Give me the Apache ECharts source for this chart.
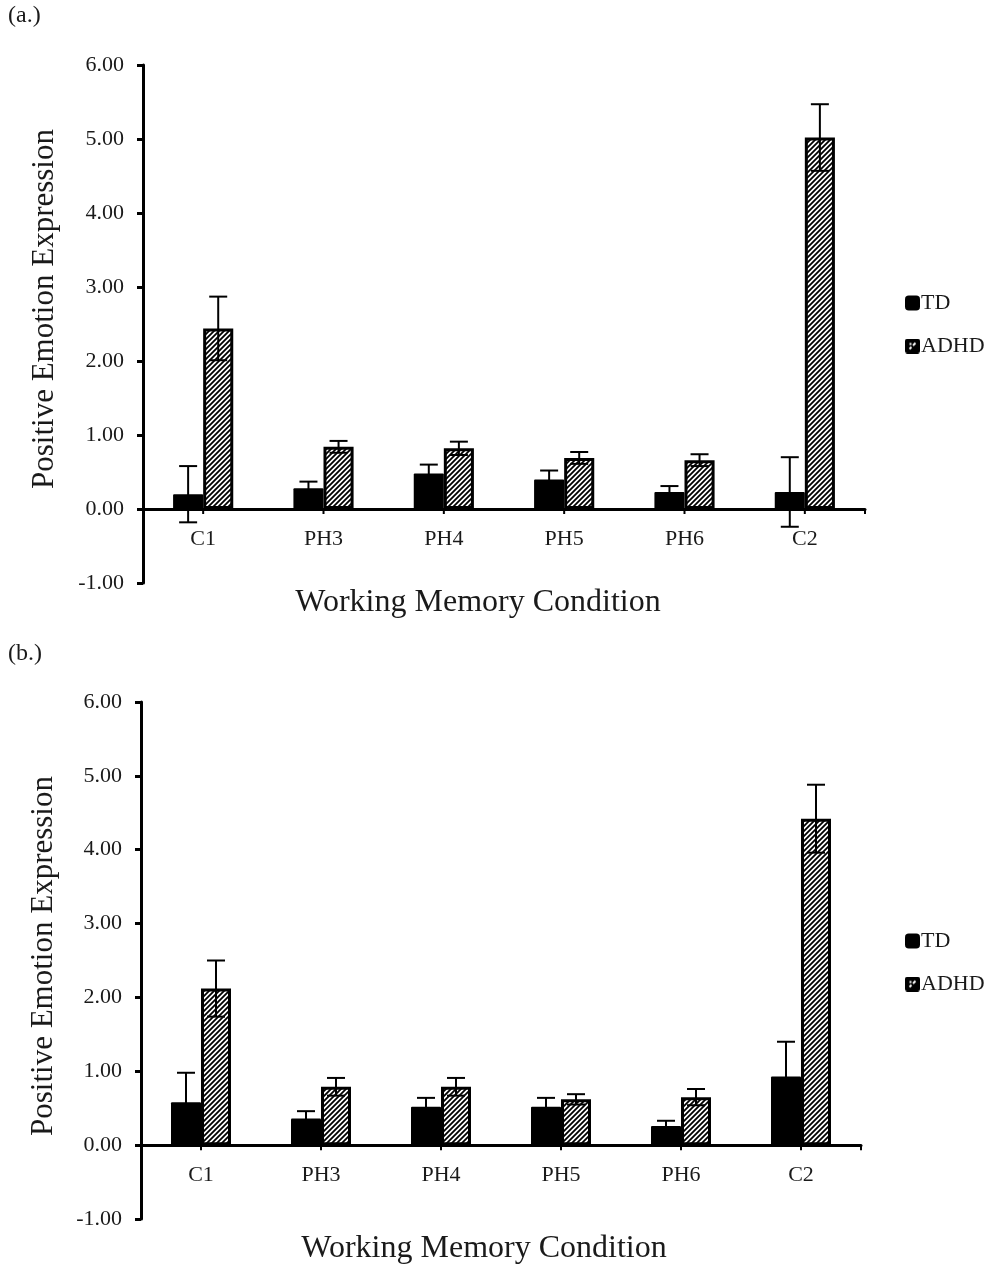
<!DOCTYPE html>
<html>
<head>
<meta charset="utf-8">
<script src="https://cdn.jsdelivr.net/npm/echarts@6/dist/echarts.min.js"></script>
<style>
html,body{margin:0;padding:0;background:#fff;}
#chart{width:994px;height:1266px;}
</style>
</head>
<body>
<div id="chart"></div>
<script>
// ---- data ----
const categories = ['C1', 'PH3', 'PH4', 'PH5', 'PH6', 'C2'];
const yTickMin = -1, yTickMax = 6, yTickStep = 1;
// panel (a.)
const tdA      = [0.20, 0.28, 0.48, 0.40, 0.23, 0.23];
const tdAErr   = [0.38, 0.09, 0.12, 0.12, 0.08, 0.47];
const adhdA    = [2.44, 0.84, 0.82, 0.69, 0.66, 5.02];
const adhdAErr = [0.43, 0.08, 0.09, 0.08, 0.08, 0.45];
// panel (b.)
const tdB      = [0.58, 0.36, 0.52, 0.52, 0.26, 0.93];
const tdBErr   = [0.40, 0.10, 0.12, 0.12, 0.07, 0.47];
const adhdB    = [2.12, 0.79, 0.79, 0.62, 0.65, 4.42];
const adhdBErr = [0.38, 0.12, 0.12, 0.07, 0.11, 0.46];
const seriesNames = ['TD', 'ADHD'];
const yTitle = 'Positive Emotion Expression';
const xTitle = 'Working Memory Condition';
const panelLabels = ['(a.)', '(b.)'];

const FONT = 'Liberation Serif';
const TEXT = '#1a1a1a';

// ---- hatch pattern ----
function makeHatch() {
  const s = 5;
  const c = document.createElement('canvas');
  c.width = s; c.height = s;
  const g = c.getContext('2d');
  g.fillStyle = '#fff';
  g.fillRect(0, 0, s, s);
  g.strokeStyle = '#000';
  g.lineWidth = 1.8;
  g.beginPath();
  g.moveTo(-s, s); g.lineTo(s, -s);
  g.moveTo(0, s); g.lineTo(s, 0);
  g.moveTo(0, 2 * s); g.lineTo(2 * s, 0);
  g.stroke();
  return c;
}
const hatch = makeHatch();

// legend icon for ADHD: dark square with a light diagonal mark
function makeAdhdIcon() {
  const s = 30;
  const c = document.createElement('canvas');
  c.width = s; c.height = s;
  const g = c.getContext('2d');
  g.fillStyle = '#000';
  g.beginPath();
  if (g.roundRect) { g.roundRect(0, 0, s, s, 5); } else { g.rect(0, 0, s, s); }
  g.fill();
  g.strokeStyle = '#fff';
  g.lineWidth = 4;
  g.beginPath();
  g.moveTo(9, 21); g.lineTo(13, 17);
  g.moveTo(16, 14); g.lineTo(21, 9);
  g.stroke();
  g.fillStyle = '#fff';
  g.fillRect(9, 9, 4, 4);
  return c.toDataURL();
}
const adhdIcon = 'image://' + makeAdhdIcon();

function errRender(sign) {
  return function (params, api) {
    const i = api.value(0), v = api.value(1), e = api.value(2);
    const band = api.size([1, 0])[0];
    const x = api.coord([i, v])[0] + sign * band * 0.125;
    const hi = api.coord([i, v + e])[1];
    const lo = api.coord([i, v - e])[1];
    const cap = 9;
    const st = { stroke: '#000', lineWidth: 2 };
    return {
      type: 'group',
      children: [
        { type: 'line', shape: { x1: x, y1: hi, x2: x, y2: lo }, style: st },
        { type: 'line', shape: { x1: x - cap, y1: hi, x2: x + cap, y2: hi }, style: st },
        { type: 'line', shape: { x1: x - cap, y1: lo, x2: x + cap, y2: lo }, style: st }
      ]
    };
  };
}

// category labels and ticks drawn at the zero line
function catLabelRender(params, api) {
  const i = api.value(0);
  const p = api.coord([i, 0]);
  const band = api.size([1, 0])[0];
  const st = { stroke: '#000', lineWidth: 2 };
  const children = [
    { type: 'line', shape: { x1: p[0], y1: p[1], x2: p[0], y2: p[1] + 5 }, style: st },
    { type: 'text', x: p[0], y: p[1] + 19,
      style: { text: categories[i], fontFamily: FONT, fontSize: 22, fill: TEXT,
        align: 'center', verticalAlign: 'top' } }
  ];
  if (i === categories.length - 1) {
    children.push({ type: 'line',
      shape: { x1: p[0] + band / 2, y1: p[1], x2: p[0] + band / 2, y2: p[1] + 5 }, style: st });
  }
  return { type: 'group', children: children };
}

function errData(vals, errs) {
  return vals.map((v, i) => [i, v, errs[i]]);
}

const grids = [
  { left: 143, right: 129, top: 65, height: 518 },
  { left: 141, right: 133, top: 702, height: 517 }
];

function xAxisFor(idx) {
  return {
    type: 'category', gridIndex: idx, data: categories,
    axisLine: { onZero: true, lineStyle: { color: '#000', width: 3 } },
    axisTick: { show: false },
    axisLabel: { show: false },
    splitLine: { show: false }
  };
}
function yAxisFor(idx) {
  return {
    type: 'value', gridIndex: idx, min: yTickMin, max: yTickMax, interval: yTickStep,
    axisLine: { show: true, lineStyle: { color: '#000', width: 3 } },
    axisTick: { show: true, length: 6, lineStyle: { color: '#000', width: 3 } },
    axisLabel: { color: TEXT, fontFamily: FONT, fontSize: 22, margin: 19,
      formatter: v => v.toFixed(2) },
    splitLine: { show: false }
  };
}

const series = [];
[[tdA, tdAErr, adhdA, adhdAErr], [tdB, tdBErr, adhdB, adhdBErr]].forEach((p, idx) => {
  series.push({
    name: seriesNames[0], type: 'bar', xAxisIndex: idx, yAxisIndex: idx,
    data: p[0], barCategoryGap: '50%', barGap: '0%',
    itemStyle: { color: '#000', borderRadius: 1 }, z: 2
  });
  series.push({
    name: seriesNames[1], type: 'bar', xAxisIndex: idx, yAxisIndex: idx,
    data: p[2], barCategoryGap: '50%', barGap: '0%',
    itemStyle: { color: { image: hatch, repeat: 'repeat' }, borderColor: '#000', borderWidth: 3 }, z: 2
  });
  series.push({
    name: 'errTD' + idx, type: 'custom', xAxisIndex: idx, yAxisIndex: idx,
    data: errData(p[0], p[1]), renderItem: errRender(-1), z: 5, encode: { x: 0, y: 1 }
  });
  series.push({
    name: 'errADHD' + idx, type: 'custom', xAxisIndex: idx, yAxisIndex: idx,
    data: errData(p[2], p[3]), renderItem: errRender(1), z: 5, encode: { x: 0, y: 1 }
  });
  series.push({
    name: 'cats' + idx, type: 'custom', xAxisIndex: idx, yAxisIndex: idx,
    data: categories.map((c, i) => [i, 0]), renderItem: catLabelRender, z: 6,
    encode: { x: 0, y: 1 }, silent: true
  });
});

function legendFor(top) {
  return {
    data: [
      { name: seriesNames[0], icon: 'roundRect' },
      { name: seriesNames[1], icon: adhdIcon }
    ],
    orient: 'vertical', left: 900, top: top,
    itemWidth: 15, itemHeight: 15, itemGap: 21,
    textStyle: { fontFamily: FONT, fontSize: 22, color: TEXT, padding: [0, 0, 0, -4] },
    selectedMode: false
  };
}

function txt(str, x, y, size, rot) {
  return {
    type: 'text', x: x, y: y, rotation: rot || 0,
    style: { text: str, fontFamily: FONT, fontSize: size, fill: TEXT,
      align: 'center', verticalAlign: 'middle' }
  };
}

const option = {
  animation: false,
  backgroundColor: '#fff',
  grid: grids,
  xAxis: [xAxisFor(0), xAxisFor(1)],
  yAxis: [yAxisFor(0), yAxisFor(1)],
  legend: [legendFor(287), legendFor(925)],
  series: series,
  graphic: [
    { type: 'text', left: 8, top: 4, style: { text: panelLabels[0], fontFamily: FONT, fontSize: 24, fill: TEXT } },
    { type: 'text', left: 8, top: 642, style: { text: panelLabels[1], fontFamily: FONT, fontSize: 24, fill: TEXT } },
    txt(yTitle, 45, 309, 31, Math.PI / 2),
    txt(yTitle, 44, 956, 31, Math.PI / 2),
    txt(xTitle, 478, 603, 32),
    txt(xTitle, 484, 1249, 32)
  ]
};

const chart = echarts.init(document.getElementById('chart'), null, { renderer: 'canvas' });
chart.setOption(option);
</script>
</body>
</html>
